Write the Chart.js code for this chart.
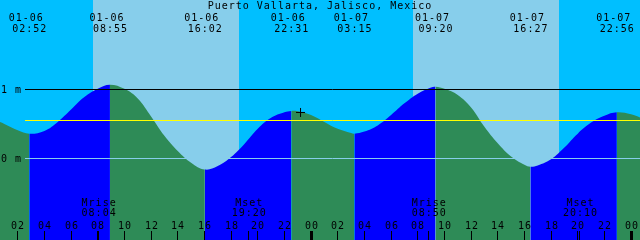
<!DOCTYPE html>
<html>
<head>
<meta charset="utf-8">
<style>
html,body{margin:0;padding:0;background:#00BFFF;overflow:hidden}
canvas{display:block}
</style>
<script src="https://cdn.jsdelivr.net/npm/chart.js@4.4.1/dist/chart.umd.min.js"></script>
</head>
<body>
<canvas id="c" width="640" height="240"></canvas>
<script>
// ---------- data (hours since 01-06 00:00) ----------
const stationName = 'Puerto Vallarta, Jalisco, Mexico';

const tideHours  = [0, 1, 2, 2.867, 4, 5, 6, 7, 8, 8.917,
                    10, 11, 12, 13, 14, 15, 16.033, 17, 18, 19,
                    20, 21, 22, 22.517, 23, 24, 25, 26, 27, 27.25,
                    28, 29, 30, 31, 32, 33, 33.333, 34, 35, 36,
                    37, 38, 39, 40, 40.45, 41, 42, 43, 44, 45,
                    46, 46.933, 48, 49];
const tideLevels = [0.58, 0.50, 0.41, 0.36, 0.40, 0.53, 0.71, 0.89, 1.01, 1.07,
                    1.01, 0.87, 0.61, 0.33, 0.11, -0.06, -0.16, -0.11, 0.02, 0.21,
                    0.43, 0.59, 0.67, 0.69, 0.685, 0.63, 0.53, 0.43, 0.37, 0.36,
                    0.39, 0.48, 0.63, 0.80, 0.94, 1.03, 1.04, 1.01, 0.92, 0.74,
                    0.46, 0.22, 0.03, -0.09, -0.12, -0.10, -0.01, 0.16, 0.36, 0.52,
                    0.62, 0.67, 0.64, 0.57];

const eventHours = [2.867, 8.917, 16.033, 22.517, 27.25, 33.333, 40.45, 46.933];
const eventDates = ['01-06','01-06','01-06','01-06','01-07','01-07','01-07','01-07'];
const eventTimes = ['02:52','08:55','16:02','22:31','03:15','09:20','16:27','22:56'];

const sunriseHours = [7.65, 31.65];
const sunsetHours  = [18.6, 42.6];

const moonHours = [8.067, 19.333, 32.833, 44.167];
const moonNames = ['Mrise','Mset','Mrise','Mset'];
const moonTimes = ['08:04','19:20','08:50','20:10'];

const hourTicks  = [2,4,6,8,10,12,14,16,18,20,22,24,26,28,30,32,34,36,38,40,42,44,46,48];
const hourLabels = ['02','04','06','08','10','12','14','16','18','20','22','00',
                    '02','04','06','08','10','12','14','16','18','20','22','00'];

const levelMarks  = [1, 0];
const levelLabels = ['1 m', '0 m'];
const levelColors = ['#000000', '#87CEEB'];
const meanLevel = 0.55;

const nowHour = 23.21;
const nowLevel = 0.667;

const xMin = 0.67, xMax = 48.67;
const yMin = -1.1812, yMax = 2.2971;

// ---------- styling ----------
const NIGHT = '#00BFFF', DAY = '#87CEEB', FLOOD = '#0000FF', EBB = '#2E8B57';
const FONT = '10px "DejaVu Sans Mono", "Liberation Mono", monospace';

function setFont(ctx){
  ctx.font = FONT;
  try { ctx.letterSpacing = '1px'; } catch(e) {}
  ctx.fillStyle = '#000';
  ctx.textBaseline = 'alphabetic';
}

const skyPlugin = {
  id: 'sky',
  beforeDatasetsDraw(chart){
    const {ctx, chartArea: a, scales: {x}} = chart;
    ctx.save();
    ctx.fillStyle = NIGHT;
    ctx.fillRect(0, 0, chart.width, chart.height);
    ctx.fillStyle = DAY;
    for (let i = 0; i < sunriseHours.length; i++) {
      const x0 = Math.round(x.getPixelForValue(sunriseHours[i]));
      const x1 = Math.round(x.getPixelForValue(sunsetHours[i]));
      ctx.fillRect(x0, a.top, x1 - x0, a.bottom - a.top);
    }
    ctx.restore();
  }
};

const levelPlugin = {
  id: 'levels',
  afterDatasetDraw(chart, args){
    if (args.index !== 0) return;
    const {ctx, chartArea: a, scales: {y}} = chart;
    const startX = 25;
    ctx.save();
    ctx.lineWidth = 1;
    levelMarks.forEach((v, i) => {
      const py = Math.floor(y.getPixelForValue(v)) + 0.5;
      ctx.strokeStyle = levelColors[i];
      ctx.beginPath(); ctx.moveTo(startX, py); ctx.lineTo(a.right, py); ctx.stroke();
    });
    const pm = Math.floor(y.getPixelForValue(meanLevel)) + 0.5;
    ctx.strokeStyle = '#FFFF00';
    ctx.beginPath(); ctx.moveTo(startX, pm); ctx.lineTo(a.right, pm); ctx.stroke();
    ctx.restore();
  }
};

const textPlugin = {
  id: 'texts',
  afterDraw(chart){
    const {ctx, chartArea: a, scales: {x, y}} = chart;
    ctx.save();
    setFont(ctx);
    ctx.textAlign = 'center';
    ctx.fillText(stationName, 320, 9);
    eventHours.forEach((h, i) => {
      const px = x.getPixelForValue(h);
      ctx.textAlign = 'center';
      ctx.fillText(eventDates[i], px - 3, 21);
      ctx.fillText(eventTimes[i], px + 0.5, 32);
    });
    ctx.textAlign = 'left';
    levelMarks.forEach((v, i) => {
      const py = Math.floor(y.getPixelForValue(v)) + 0.5;
      ctx.fillText(levelLabels[i], 1, py + 3.5);
    });
    ctx.textAlign = 'center';
    moonHours.forEach((h, i) => {
      const px = x.getPixelForValue(h);
      ctx.fillText(moonNames[i], px + 0.5, 206);
      ctx.fillText(moonTimes[i], px + 0.5, 216);
      ctx.fillRect(Math.floor(px), 231, 1, a.bottom - 231);
    });
    hourTicks.forEach((h, i) => {
      const px = Math.floor(x.getPixelForValue(h));
      ctx.fillText(hourLabels[i], px + 1, 229);
      if (h % 24 === 0) ctx.fillRect(px - 1, 231, 3, a.bottom - 231);
      else ctx.fillRect(px, 231, 1, a.bottom - 231);
    });
    ctx.restore();
  }
};

new Chart(document.getElementById('c'), {
  type: 'line',
  data: {
    datasets: [
      {
        data: tideHours.map((h, i) => ({x: h, y: tideLevels[i]})),
        fill: 'start',
        backgroundColor: EBB,
        borderColor: 'rgba(0,0,0,0)',
        borderWidth: 0,
        pointRadius: 0,
        pointHoverRadius: 0,
        tension: 0.4,
        segment: {
          backgroundColor: c => c.p1.parsed.y > c.p0.parsed.y ? FLOOD : EBB
        },
        order: 1
      },
      {
        type: 'scatter',
        data: [{x: nowHour, y: nowLevel}],
        pointStyle: 'cross',
        pointRadius: 4.5,
        pointHoverRadius: 4.5,
        borderColor: '#000',
        backgroundColor: '#000',
        borderWidth: 1,
        order: 0
      }
    ]
  },
  options: {
    responsive: false,
    animation: false,
    devicePixelRatio: 1,
    events: [],
    layout: {padding: 0, autoPadding: false},
    plugins: {legend: {display: false}, tooltip: {enabled: false}, title: {display: false}},
    scales: {
      x: {type: 'linear', min: xMin, max: xMax, display: false},
      y: {type: 'linear', min: yMin, max: yMax, display: false}
    }
  },
  plugins: [skyPlugin, levelPlugin, textPlugin]
});
</script>
</body>
</html>
